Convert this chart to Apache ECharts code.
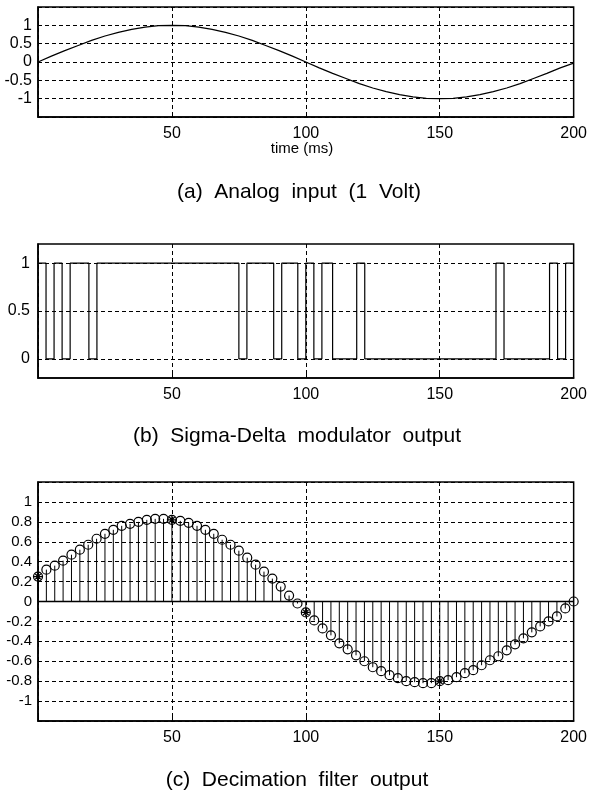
<!DOCTYPE html>
<html>
<head>
<meta charset="utf-8">
<script src="https://cdn.jsdelivr.net/npm/echarts@6/dist/echarts.min.js"></script>
<style>
  html, body { margin: 0; padding: 0; background: #fff; }
  #chart { width: 590px; height: 798px; }
</style>
</head>
<body>
<div id="chart"></div>
<script>
// (a) analog input, read every 5 ms
const analogTimes = [0, 5, 10, 15, 20, 25, 30, 35, 40, 45, 50, 55, 60, 65, 70, 75, 80, 85, 90, 95, 100,
  105, 110, 115, 120, 125, 130, 135, 140, 145, 150, 155, 160, 165, 170, 175, 180, 185, 190, 195, 200];
const analogValues = [0, 0.16, 0.31, 0.45, 0.59, 0.71, 0.81, 0.89, 0.95, 0.99, 1, 0.99, 0.95, 0.89, 0.81, 0.71, 0.59, 0.45, 0.31, 0.16, 0,
  -0.16, -0.31, -0.45, -0.59, -0.71, -0.81, -0.89, -0.95, -0.99, -1, -0.99, -0.95, -0.89, -0.81, -0.71, -0.59, -0.45, -0.31, -0.16, -0.03];

// (b) bit stream: each level holds from its edge to the next edge
const bitEdges = [0, 3, 6, 9, 12, 19, 22, 75, 78, 88, 91, 97, 100, 103, 106, 110, 119, 122, 171, 174, 191, 194, 197, 200];
const bitLevels = [1, 0, 1, 0, 1, 0, 1, 0, 1, 0, 1, 0, 1, 0, 1, 0, 1, 0, 1, 0, 1, 0, 1, 1];

// (c) decimation filter output, one sample every 3.125 ms
const decimStep = 3.125;
const decimValues = [0.25, 0.32, 0.36, 0.41, 0.47, 0.52, 0.57, 0.63, 0.68, 0.72, 0.76, 0.78, 0.80, 0.82, 0.83, 0.83,
  0.82, 0.81, 0.79, 0.76, 0.72, 0.68, 0.62, 0.57, 0.51, 0.44, 0.37, 0.30, 0.23, 0.15, 0.06, -0.02,
  -0.11, -0.19, -0.27, -0.34, -0.42, -0.48, -0.54, -0.60, -0.66, -0.70, -0.74, -0.77, -0.80, -0.81, -0.82, -0.82,
  -0.80, -0.79, -0.76, -0.72, -0.69, -0.64, -0.59, -0.55, -0.49, -0.43, -0.37, -0.31, -0.25, -0.20, -0.15, -0.07, 0.0];
const markedSamples = [0, 16, 32, 48];

const bLevelTicks = [0, 0.5, 1];
const captions = ['(a)  Analog  input  (1  Volt)', '(b)  Sigma-Delta  modulator  output', '(c)  Decimation  filter  output'];

const FONT = '"Liberation Sans", Arial, sans-serif';
const dashed = { show: true, lineStyle: { color: '#000', width: 1, type: [4, 3] } };
const frameLine = { show: true, onZero: false, lineStyle: { color: '#000', width: 1.5 } };

const chart = echarts.init(document.getElementById('chart'), null, { renderer: 'canvas' });

function xAxisFor(gridIndex) {
  return {
    gridIndex, type: 'value', min: 0, max: 200, interval: 50,
    axisLine: frameLine,
    axisTick: { show: true, inside: true, length: 5, lineStyle: { color: '#000' } },
    axisLabel: {
      color: '#000', fontFamily: FONT, fontSize: 16, margin: 9,
      formatter: v => (v === 0 ? '' : String(v))
    },
    splitLine: dashed
  };
}

const aPoints = analogTimes.map((t, i) => [t, analogValues[i]]);
const bPoints = bitEdges.map((t, i) => [t, bitLevels[i]]);
const cPoints = decimValues.map((v, k) => [k * decimStep, v]);
const cMarked = markedSamples.map(k => cPoints[k]);

const option = {
  animation: false,
  backgroundColor: '#fff',
  grid: [
    { left: 38, top: 7, width: 538, height: 110, show: true, borderColor: '#000', borderWidth: 1.5, backgroundColor: 'transparent' },
    { left: 38, top: 244, width: 538, height: 134, show: true, borderColor: '#000', borderWidth: 1.5, backgroundColor: 'transparent' },
    { left: 38, top: 482, width: 540, height: 239, show: true, borderColor: '#000', borderWidth: 1.5, backgroundColor: 'transparent' }
  ],
  xAxis: [xAxisFor(0), xAxisFor(1), xAxisFor(2)],
  yAxis: [
    {
      gridIndex: 0, type: 'value', min: -1.5, max: 1.5, interval: 0.5,
      axisLine: frameLine,
      axisTick: { show: false },
      axisLabel: {
        color: '#000', fontFamily: FONT, fontSize: 16, margin: 6,
        formatter: v => (Math.abs(v) > 1.2 ? '' : String(+v.toFixed(1)))
      },
      splitLine: dashed
    },
    {
      gridIndex: 1, type: 'value', min: -0.2, max: 1.2, interval: 0.1,
      axisLine: frameLine,
      axisTick: { show: false },
      axisLabel: {
        color: '#000', fontFamily: FONT, fontSize: 16, margin: 8,
        formatter: v => {
          const r = +v.toFixed(2);
          return bLevelTicks.indexOf(r) >= 0 ? String(r) : '';
        }
      },
      splitLine: { show: false }
    },
    {
      gridIndex: 2, type: 'value', min: -1.2, max: 1.2, interval: 0.2,
      axisLine: frameLine,
      axisTick: { show: false },
      axisLabel: {
        color: '#000', fontFamily: FONT, fontSize: 15, margin: 6,
        formatter: v => (Math.abs(v) > 1.1 ? '' : String(+v.toFixed(1)))
      },
      splitLine: dashed
    }
  ],
  graphic: [
    { type: 'text', x: 302, y: 149, style: { text: 'time (ms)', font: '15px ' + FONT, fill: '#000', align: 'center', verticalAlign: 'middle' } },
    { type: 'text', x: 299, y: 192, style: { text: captions[0], font: '21px ' + FONT, fill: '#000', align: 'center', verticalAlign: 'middle' } },
    { type: 'text', x: 297, y: 436, style: { text: captions[1], font: '21px ' + FONT, fill: '#000', align: 'center', verticalAlign: 'middle' } },
    { type: 'text', x: 297, y: 780, style: { text: captions[2], font: '21px ' + FONT, fill: '#000', align: 'center', verticalAlign: 'middle' } }
  ],
  series: [
    {
      type: 'line', xAxisIndex: 0, yAxisIndex: 0, data: aPoints,
      showSymbol: false, silent: true,
      lineStyle: { color: '#000', width: 1.2 }
    },
    {
      type: 'line', xAxisIndex: 1, yAxisIndex: 1, data: bPoints, step: 'end',
      showSymbol: false, silent: true,
      lineStyle: { color: '#000', width: 1.2 },
      markLine: {
        silent: true, symbol: 'none', label: { show: false },
        lineStyle: { color: '#000', width: 1, type: [4, 3] },
        data: bLevelTicks.map(v => ({ yAxis: v }))
      }
    },
    {
      type: 'custom', xAxisIndex: 2, yAxisIndex: 2, data: cPoints, silent: true,
      renderItem: (params, api) => {
        const top = api.coord([api.value(0), api.value(1)]);
        const base = api.coord([api.value(0), 0]);
        return {
          type: 'line',
          shape: { x1: base[0], y1: base[1], x2: top[0], y2: top[1] },
          style: { stroke: '#000', lineWidth: 1 }
        };
      },
      markLine: {
        silent: true, symbol: 'none', label: { show: false },
        lineStyle: { color: '#000', width: 1.3, type: 'solid' },
        data: [{ yAxis: 0 }]
      }
    },
    {
      type: 'scatter', xAxisIndex: 2, yAxisIndex: 2, data: cPoints, silent: true,
      symbol: 'circle', symbolSize: 9,
      itemStyle: { color: 'rgba(255,255,255,0)', borderColor: '#000', borderWidth: 1.2, opacity: 1 }
    },
    {
      type: 'scatter', xAxisIndex: 2, yAxisIndex: 2, data: cMarked, silent: true,
      symbol: 'path://M0,5L10,5M5,0L5,10M1.5,1.5L8.5,8.5M8.5,1.5L1.5,8.5', symbolSize: 8,
      itemStyle: { color: 'rgba(0,0,0,0)', borderColor: '#000', borderWidth: 1.3, opacity: 1 }
    }
  ]
};

chart.setOption(option);
</script>
</body>
</html>
